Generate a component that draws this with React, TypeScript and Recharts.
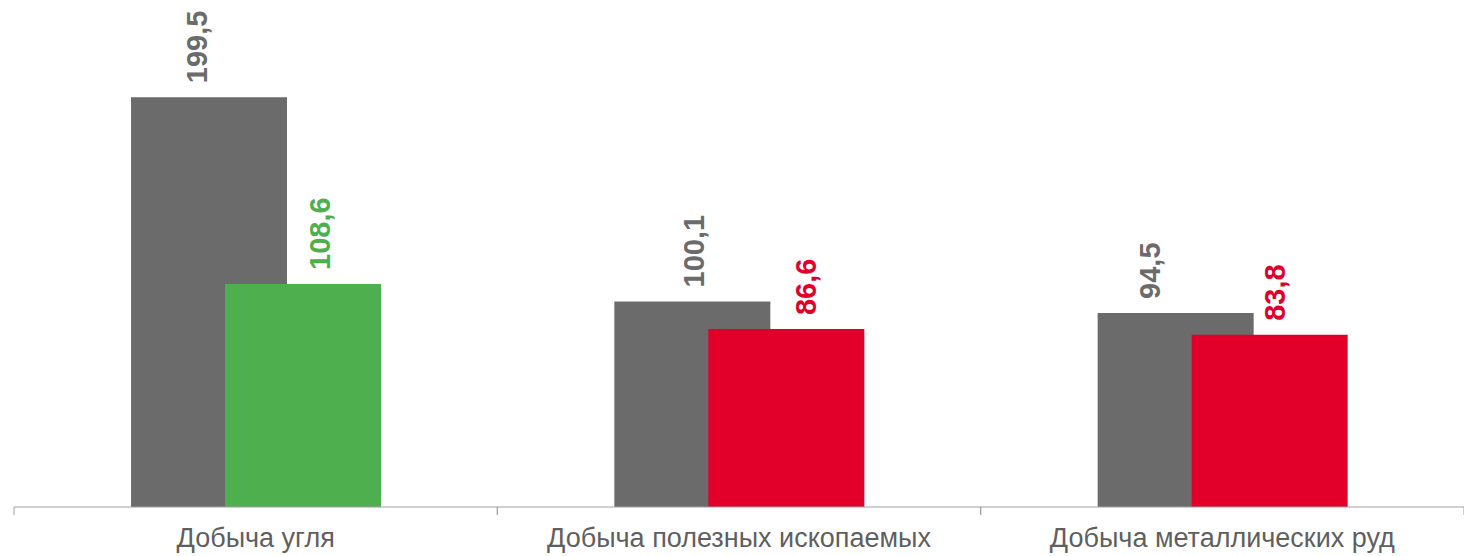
import { BarChart, Bar, XAxis, YAxis, Cell, LabelList } from "recharts";

const categories = [
  "Добыча угля",
  "Добыча полезных ископаемых",
  "Добыча металлических руд",
];
const prevValues = [199.5, 100.1, 94.5];
const currValues = [108.6, 86.6, 83.8];
const currColors = ["#4daf4e", "#e2002b", "#e2002b"];

const GREY = "#6b6b6b";
// label nudges, picked by eye off the reference
const prevLabelDx = [-12, 2, -26];
const currLabelDx = [17, 20, 5];

const data = categories.map((name, i) => ({
  name,
  prev: prevValues[i],
  curr: currValues[i],
}));

const fmt = (v: number) => v.toFixed(1).replace(".", ",");

const makeLabel = (colors: string[], dxs: number[]) => (props: any) => {
  const { x, y, width, value, index } = props;
  const cx = Number(x) + Number(width) / 2 + dxs[index];
  const cy = Number(y) - 14;
  return (
    <text
      x={cx}
      y={cy}
      transform={`rotate(-90, ${cx}, ${cy})`}
      textAnchor="start"
      dominantBaseline="central"
      fill={colors[index]}
      fontSize={29}
      fontWeight="bold"
    >
      {fmt(value)}
    </text>
  );
};

const TICK_SIZE = 8;
const TICK_MARGIN = 4;

const CategoryTick = (props: any) => {
  const { x, y, payload } = props;
  const half = payload.offset || 0;
  const axisY = y - TICK_SIZE - TICK_MARGIN;
  return (
    <g>
      <line x1={x - half} x2={x - half} y1={axisY} y2={axisY + TICK_SIZE} stroke="#a0a0a0" />
      <line x1={x + half} x2={x + half} y1={axisY} y2={axisY + TICK_SIZE} stroke="#a0a0a0" />
      <text x={x} y={axisY + 31} textAnchor="middle" dominantBaseline="central" fill="#5f5f5f" fontSize={27}>
        {payload.value}
      </text>
    </g>
  );
};

export default function App() {
  return (
    <div style={{ position: "absolute", left: 0, top: 0, width: 1464, height: 556, background: "#fff" }}>
      <BarChart
        width={1464}
        height={556}
        data={data}
        margin={{ top: 14, right: 0, bottom: 0, left: 14 }}
        barSize={156}
        barGap={-62}
        style={{ fontFamily: "'Liberation Sans', Arial, sans-serif" }}
      >
        <XAxis
          dataKey="name"
          height={49}
          axisLine={{ stroke: "#a0a0a0" }}
          tickLine={false}
          tickSize={TICK_SIZE}
          tickMargin={TICK_MARGIN}
          tick={<CategoryTick />}
          interval={0}
        />
        <YAxis hide domain={[0, 240]} />
        <Bar dataKey="prev" fill={GREY} isAnimationActive={false}>
          <LabelList dataKey="prev" content={makeLabel([GREY, GREY, GREY], prevLabelDx)} />
        </Bar>
        <Bar dataKey="curr" isAnimationActive={false}>
          {data.map((_, i) => (
            <Cell key={i} fill={currColors[i]} />
          ))}
          <LabelList dataKey="curr" content={makeLabel(currColors, currLabelDx)} />
        </Bar>
      </BarChart>
    </div>
  );
}
